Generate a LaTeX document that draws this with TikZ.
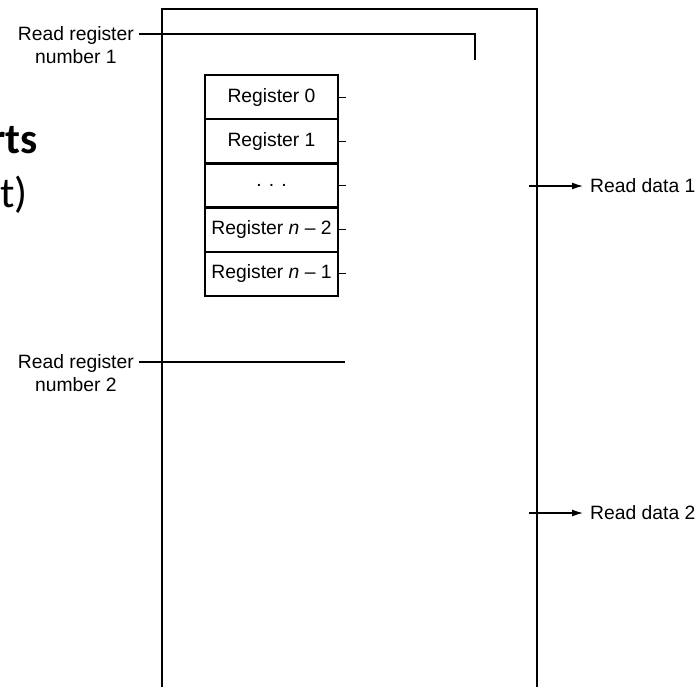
\documentclass[tikz,border=0pt]{standalone}
\usepackage{fontspec}
\setmainfont{Liberation Sans}
\newfontfamily\slidefont{Carlito}
\usetikzlibrary{arrows.meta}
\begin{document}
\begin{tikzpicture}[x=1pt,y=-1pt,
  lbl/.style={font=\fontsize{19.3}{23}\selectfont, inner sep=0pt},
  regbox/.style={draw, line width=2.4pt, fill=white, minimum width=133pt, minimum height=44.2pt, inner sep=0pt, font=\fontsize{19.3}{23}\selectfont},
  outerwall/.style={line width=2.6pt, line cap=rect},
  wire/.style={line width=1.3pt},
  tick/.style={line width=1.1pt},
  outarrow/.style={line width=1.3pt, -{Latex[length=11pt,width=7pt]}}
]
\useasboundingbox (0,0) rectangle (696,686);
\begin{scope}
\clip (0,0) rectangle (696,686);
% slide residue text
\node[anchor=base east, inner sep=0pt, font=\slidefont\bfseries\fontsize{43}{50}\selectfont] (slideA) at (38,153) {rts};
\node[anchor=base east, inner sep=0pt, font=\slidefont\fontsize{43}{50}\selectfont] (slideB) at (28,207) {t)};
% outer register file outline
\coordinate (obl) at (162,700);
\coordinate (otl) at (162,9);
\coordinate (otr) at (537,9);
\coordinate (obr) at (537,700);
\draw[outerwall] (obl) -- (otl) -- (otr) -- (obr);
% registers
\node[regbox] (r0) at (271.5,97.1) {Register 0};
\node[regbox] (r1) at (271.5,141.3) {Register 1};
\node[regbox] (r2) at (271.5,185.5) {. . .};
\node[regbox] (r3) at (271.5,229.7) {Register \textit{n}~–~2};
\node[regbox] (r4) at (271.5,273.9) {Register \textit{n}~–~1};
\foreach \r in {r0,r1,r2,r3,r4}{
  \draw[tick] (\r.east) -- ++(7,0);
}
% read register number 1
\node[lbl, align=center, anchor=east] (rrn1) at (134,45.5) {Read register\\number 1};
\coordinate (w1s) at (139,34);
\coordinate (w1c) at (475,34);
\coordinate (w1e) at (475,60);
\draw[wire] (w1s) -- (w1c) -- (w1e);
% read register number 2
\node[lbl, align=center, anchor=east] (rrn2) at (134,373.5) {Read register\\number 2};
\coordinate (w2s) at (139,362);
\coordinate (w2e) at (345,362);
\draw[wire] (w2s) -- (w2e);
% read data 1
\node[lbl, anchor=west] (rd1) at (590,186) {Read data 1};
\coordinate (d1s) at (529,186);
\draw[outarrow] (d1s) -- ([xshift=-7pt]rd1.west);
% read data 2
\node[lbl, anchor=west] (rd2) at (590,513) {Read data 2};
\coordinate (d2s) at (529,513);
\draw[outarrow] (d2s) -- ([xshift=-7pt]rd2.west);
\end{scope}
\end{tikzpicture}
\end{document}
